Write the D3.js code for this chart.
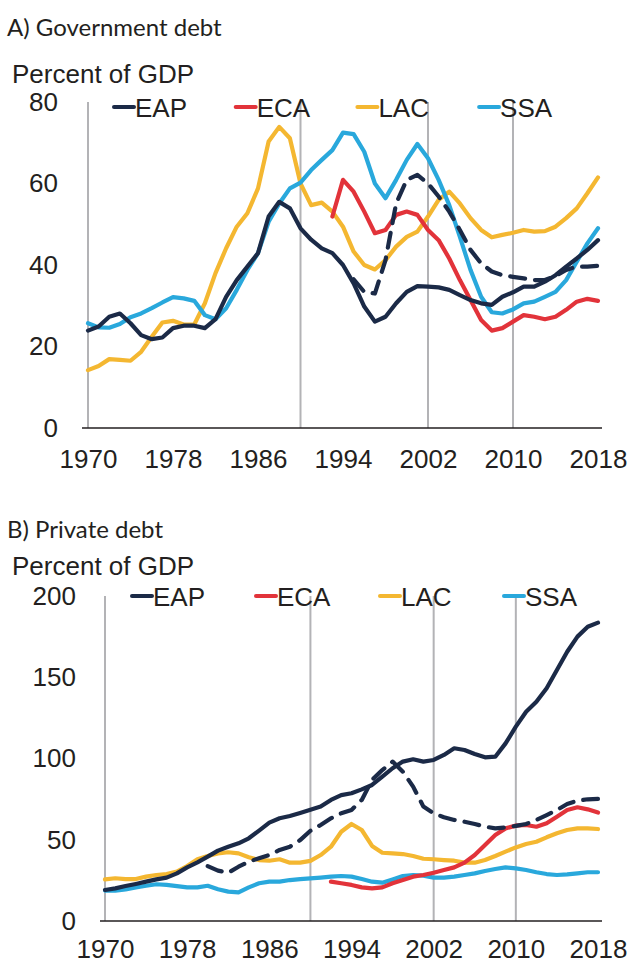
<!DOCTYPE html>
<html>
<head>
<meta charset="utf-8">
<title>Government and private debt</title>
<script src="https://d3js.org/d3.v7.min.js"></script>
<style>
  body { margin: 0; background: #fff; }
  svg text { fill: #231f20; }
</style>
</head>
<body>
<svg width="630" height="964"></svg>
<script>
// regions and colours
const regions = ["EAP", "ECA", "LAC", "SSA"];
const colors = { EAP: "#1b2a47", ECA: "#e2333a", LAC: "#f4b731", SSA: "#29a8dc" };
const xTicks = [1970, 1978, 1986, 1994, 2002, 2010, 2018];
const waveYears = [1970, 1990, 2002, 2010];

// A) Government debt, percent of GDP
const govEAP = [23.9, 24.9, 27.3, 28.1, 25.7, 22.8, 21.8, 22.2, 24.5, 25.1, 25.1, 24.5, 26.7, 32.2, 36.3, 39.6, 42.9, 51.9, 55.5, 53.9,
  49.0, 46.2, 44.1, 42.9, 40.0, 35.5, 29.8, 26.1, 27.3, 30.6, 33.4, 34.8, 34.7, 34.5, 33.9, 32.6, 31.4, 30.6, 30.2, 32.2,
  33.3, 34.7, 34.7, 35.9, 37.5, 39.6, 41.6, 43.7, 46.1]; // 1970-2018
const govEAPdash = [36.5, 33.4, 33.0, 41.2, 55.1, 60.9, 62.1, 60.0, 56.8, 53.1, 48.6, 43.7, 40.4, 38.4, 37.5,
  37.1, 36.7, 36.3, 36.3, 37.3, 38.8, 39.6, 39.6, 39.8]; // 1995-2018
const govECA = [51.9, 60.9, 58.0, 53.1, 47.8, 48.6, 52.3, 53.1, 52.3, 48.6, 46.1, 41.6, 36.3, 31.4, 26.5, 23.9, 24.5,
  26.1, 27.7, 27.3, 26.7, 27.3, 29.0, 31.0, 31.7, 31.2]; // 1993-2018
const govLAC = [14.2, 15.2, 16.9, 16.7, 16.5, 18.7, 22.4, 25.9, 26.3, 25.4, 25.4, 30.6, 38.0, 44.1, 49.4, 52.7, 58.8, 70.3, 73.9, 71.1,
  60.0, 54.7, 55.3, 53.1, 49.4, 43.3, 40.0, 38.9, 41.2, 44.5, 46.9, 48.2, 51.9, 56.0, 58.0, 55.1, 51.5, 48.6, 46.8, 47.4,
  47.9, 48.6, 48.2, 48.3, 49.4, 51.5, 53.9, 57.6, 61.5]; // 1970-2018
const govSSA = [25.7, 24.7, 24.6, 25.5, 27.2, 28.1, 29.4, 30.8, 32.1, 31.8, 31.2, 27.7, 26.7, 29.4, 33.9, 38.8, 42.9, 50.6, 55.1, 58.8,
  60.2, 63.3, 65.8, 68.2, 72.5, 72.1, 67.8, 60.0, 56.4, 60.9, 65.8, 69.7, 66.2, 60.9, 54.7, 46.9, 38.8, 32.2, 28.4, 28.1,
  29.1, 30.6, 31.0, 32.2, 33.4, 36.3, 40.8, 45.3, 49.0]; // 1970-2018

// B) Private debt, percent of GDP
const privEAP = [19.1, 20.1, 21.5, 22.8, 24.2, 25.6, 26.7, 29.3, 33.0, 36.1, 39.6, 43.3, 45.7, 47.8, 50.9, 55.6, 60.5, 63.2, 64.6, 66.5,
  68.5, 70.4, 74.5, 77.5, 78.6, 81.0, 83.7, 88.8, 94.0, 98.1, 99.5, 98.1, 99.1, 102.2, 106.3, 105.2, 102.8, 100.7, 101.1, 109.3,
  119.6, 128.8, 134.9, 143.2, 154.5, 165.7, 175.0, 181.1, 183.6]; // 1970-2018
const privEAPdash = [33.8, 31.0, 29.7, 33.4, 36.5, 38.6, 40.6, 43.7, 45.7, 49.8,
  55.5, 59.1, 63.2, 66.3, 68.3, 74.5, 86.8, 92.9, 98.1, 91.9, 82.7, 70.4, 66.3, 63.8, 62.2, 61.1, 59.7, 58.1, 57.0, 57.6,
  58.5, 59.7, 62.2, 65.2, 68.3, 72.0, 74.1, 74.9, 75.1]; // 1980-2018
const privECA = [24.2, 23.2, 22.2, 20.7, 20.1, 20.7, 23.2, 25.2, 27.3, 28.3, 29.7, 31.4, 33.0, 35.9, 40.6, 46.8, 52.9, 57.0,
  58.7, 59.1, 58.0, 60.1, 64.2, 68.3, 70.0, 68.7, 66.7]; // 1992-2018
const privLAC = [25.6, 26.3, 25.8, 25.8, 27.3, 28.3, 28.9, 30.4, 33.8, 38.0, 40.0, 41.6, 42.3, 41.6, 39.2, 37.5, 37.1, 38.0, 35.9, 35.9,
  37.0, 40.6, 45.7, 54.9, 59.7, 56.0, 46.2, 42.0, 41.6, 41.2, 40.0, 38.3, 38.0, 37.5, 37.1, 35.9, 35.9, 37.5, 40.0, 42.7,
  45.3, 47.4, 48.8, 51.5, 54.0, 56.0, 57.0, 57.0, 56.6]; // 1970-2018
const privSSA = [18.7, 18.7, 19.5, 20.7, 21.7, 22.6, 22.2, 21.5, 20.7, 20.7, 21.7, 19.5, 18.1, 17.6, 20.7, 23.2, 24.2, 24.2, 25.2, 25.8,
  26.2, 26.7, 27.3, 27.7, 27.3, 25.8, 24.2, 23.6, 25.6, 27.7, 28.3, 27.9, 26.7, 26.7, 27.3, 28.3, 29.3, 30.8, 32.0, 33.0,
  32.4, 31.4, 30.0, 28.9, 28.3, 28.7, 29.3, 30.0, 30.0]; // 1970-2018

const svg = d3.select("svg");
const tickFont = "'Liberation Sans', Arial, sans-serif";
const titleFont = "Lato, 'Noto Sans', sans-serif";

function toPoints(values, start) {
  return values.map((v, i) => ({ year: start + i, value: v }));
}

function drawPanel(p) {
  const x = d3.scaleLinear().domain([1970, 2018]).range([p.x0, p.x1]);
  const y = d3.scaleLinear().domain([0, p.yMax]).range([p.bottom, p.top]);
  const g = svg.append("g");

  // panel title and unit
  g.append("text").attr("x", 7).attr("y", p.titleY)
    .style("font-family", titleFont).style("font-size", "24px")
    .text(p.title);
  g.append("text").attr("x", 12).attr("y", p.unitY)
    .style("font-family", tickFont).style("font-size", "26px")
    .text("Percent of GDP");

  // grey wave separators
  g.selectAll(".wave").data(waveYears).enter().append("line")
    .attr("x1", d => x(d)).attr("x2", d => x(d))
    .attr("y1", p.top).attr("y2", p.bottom)
    .attr("stroke", "#b3b3b6").attr("stroke-width", 2);

  // y axis labels
  const yAxis = d3.axisLeft(y).tickValues(p.yTicks).tickSize(0).tickPadding(0);
  g.append("g").attr("transform", `translate(${p.yLabelX},0)`).call(yAxis)
    .call(a => a.select(".domain").remove())
    .selectAll("text").style("font-family", tickFont).style("font-size", "26px").attr("fill", "#231f20");

  // x axis
  const xAxis = d3.axisBottom(x).tickValues(xTicks).tickFormat(d3.format("d")).tickSize(0).tickPadding(p.xPad);
  g.append("g").attr("transform", `translate(0,${p.bottom})`).call(xAxis)
    .call(a => a.select(".domain").remove())
    .selectAll("text").style("font-family", tickFont).style("font-size", "26px").attr("fill", "#231f20");
  g.append("line").attr("x1", p.axisX0).attr("x2", 602)
    .attr("y1", p.bottom).attr("y2", p.bottom)
    .attr("stroke", "#231f20").attr("stroke-width", 1.5);

  const line = d3.line().x(d => x(d.year)).y(d => y(d.value)).curve(d3.curveLinear);

  p.series.forEach(s => {
    g.append("path").datum(toPoints(s.values, s.start))
      .attr("fill", "none")
      .attr("stroke", colors[s.region])
      .attr("stroke-width", 4.2)
      .attr("stroke-linejoin", "round")
      .attr("stroke-linecap", "round")
      .attr("stroke-dasharray", s.dashed ? "15,10" : null)
      .attr("d", line);
  });

  // legend
  const leg = g.selectAll(".leg").data(regions).enter().append("g")
    .attr("transform", (d, i) => `translate(${p.legX + i * p.legStep},${p.legY})`);
  leg.append("line").attr("x1", 0).attr("x2", 20).attr("y1", 0).attr("y2", 0)
    .attr("stroke", d => colors[d]).attr("stroke-width", 4).attr("stroke-linecap", "round");
  leg.append("text").attr("x", 21).attr("y", 10)
    .style("font-family", tickFont).style("font-size", "26px")
    .text(d => d);
}

drawPanel({
  title: "A) Government debt", titleY: 36, unitY: 83,
  x0: 88, x1: 598, axisX0: 82, top: 102, bottom: 428, yMax: 80,
  yTicks: [0, 20, 40, 60, 80], yLabelX: 58, xPad: 22,
  legX: 114, legY: 107, legStep: 121.7,
  series: [
    { region: "LAC", start: 1970, values: govLAC },
    { region: "SSA", start: 1970, values: govSSA },
    { region: "ECA", start: 1993, values: govECA },
    { region: "EAP", start: 1970, values: govEAP },
    { region: "EAP", start: 1995, values: govEAPdash, dashed: true }
  ]
});

drawPanel({
  title: "B) Private debt", titleY: 538, unitY: 575,
  x0: 105, x1: 598, axisX0: 100, top: 596, bottom: 921, yMax: 200,
  yTicks: [0, 50, 100, 150, 200], yLabelX: 76, xPad: 19,
  legX: 132, legY: 596, legStep: 124,
  series: [
    { region: "SSA", start: 1970, values: privSSA },
    { region: "LAC", start: 1970, values: privLAC },
    { region: "ECA", start: 1992, values: privECA },
    { region: "EAP", start: 1970, values: privEAP },
    { region: "EAP", start: 1980, values: privEAPdash, dashed: true }
  ]
});
</script>
</body>
</html>
